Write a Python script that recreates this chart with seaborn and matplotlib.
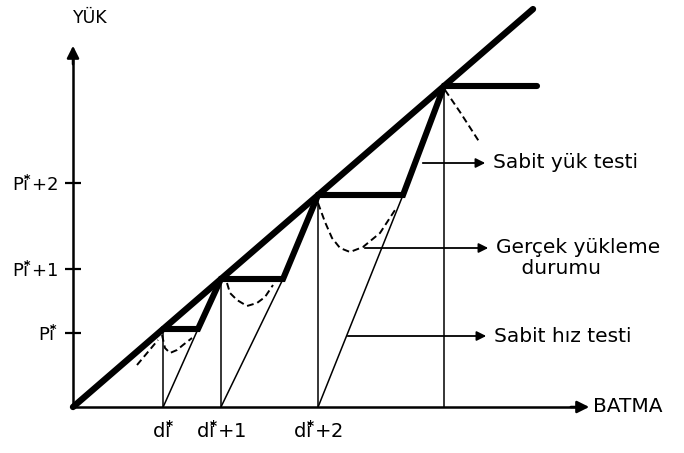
import numpy as np
import matplotlib
matplotlib.use("Agg")
import matplotlib.pyplot as plt
import seaborn as sns

# ---- data (drawing units: batma on x, yük on y) ----
slope = 0.865                      # sabit hız doğrusu eğimi
step_loads = [78, 128, 212, 321]   # yük basamakları
step_ends = [125, 210, 330, 464]   # sabit yük bitiş batması
tick_loads = [74, 138, 224]
star = r"$^{\!\!\mathbf{*}}$"
tick_labels = ["Pi" + star, "Pi" + star + "+1", "Pi" + star + "+2"]
d_labels = ["di" + star, "di" + star + "+1", "di" + star + "+2"]
diag_end = 460

# gerçek yükleme (kesikli) eğrileri
real_x = [[64, 85],
          [89, 92, 97, 104, 110, 119],
          [154, 157, 164, 174, 184, 192, 200],
          [245, 252, 259, 267, 277, 290, 307, 324],
          [372, 387, 407]]
real_y = [[42, 67],
          [72, 59, 54, 57, 62, 69],
          [124, 114, 107, 101, 104, 110, 122],
          [204, 185, 169, 159, 155, 160, 174, 200],
          [317, 295, 264]]

sns.set_style("white")
plt.rcParams["font.family"] = ["DejaVu Sans"]
plt.rcParams["text.color"] = "black"
plt.rcParams["xtick.color"] = "black"
plt.rcParams["ytick.color"] = "black"

fig = plt.figure(figsize=(6.84, 4.53), dpi=100)
ax = fig.add_axes([0, 0, 1, 1])
ax.set_xlim(-73, 611)
ax.set_ylim(-46, 407)

corners = [p / slope for p in step_loads]

# ana doğru
sns.lineplot(x=[0, diag_end], y=[0, diag_end * slope], ax=ax, color="black",
             lw=4.6, solid_capstyle="round")

# basamaklı sabit yük eğrisi
sx, sy = [], []
for c, e, p in zip(corners, step_ends, step_loads):
    sx += [c, e]
    sy += [p, p]
sns.lineplot(x=sx, y=sy, ax=ax, color="black", lw=4.4, sort=False,
             estimator=None, solid_joinstyle="miter")

# düşey ince çizgiler ve sabit hız doğruları
for i, (c, p) in enumerate(zip(corners, step_loads)):
    sns.lineplot(x=[c, c], y=[0, p], ax=ax, color="black", lw=1.1,
                 estimator=None)
    if i < 3:
        sns.lineplot(x=[c, step_ends[i]], y=[0, p], ax=ax, color="black",
                     lw=1.1, estimator=None)

for xs, ys in zip(real_x, real_y):
    sns.lineplot(x=xs, y=ys, ax=ax, color="black", lw=1.4, sort=False,
                 estimator=None, linestyle=(0, (3.5, 2)))

# eksenler
for s in ["top", "right"]:
    ax.spines[s].set_visible(False)
ax.spines["left"].set_position(("data", 0))
ax.spines["bottom"].set_position(("data", 0))
ax.spines["left"].set_bounds(0, 350)
ax.spines["bottom"].set_bounds(0, 505)
ax.spines["left"].set_color("black")
ax.spines["bottom"].set_color("black")
ax.spines["left"].set_linewidth(1.8)
ax.spines["bottom"].set_linewidth(1.8)
ax.annotate("", xy=(0, 364), xytext=(0, 340),
            arrowprops=dict(arrowstyle="-|>", color="black", lw=1.8,
                            mutation_scale=18))
ax.annotate("", xy=(519, 0), xytext=(495, 0),
            arrowprops=dict(arrowstyle="-|>", color="black", lw=1.8,
                            mutation_scale=18))

ax.set_yticks(tick_loads)
ax.set_yticklabels(tick_labels, fontsize=13)
ax.tick_params(axis="y", direction="inout", length=12, width=1.6, pad=5,
               left=True)
ax.set_xticks(corners[:3])
ax.set_xticklabels(d_labels, fontsize=14)
ax.tick_params(axis="x", length=0, pad=9, bottom=True)

ax.text(17, 389, "YÜK", fontsize=12.5, ha="center", va="center")
ax.text(520, 0, "BATMA", fontsize=14.5, ha="left", va="center")

# açıklama okları
notes = [((347, 244), (415, 244), "Sabit yük testi"),
         ((289, 159), (418, 159), "Gerçek yükleme\n    durumu"),
         ((272, 71), (416, 71), "Sabit hız testi")]
for (x0, y0), (x1, y1), txt in notes:
    ax.annotate("", xy=(x1, y1), xytext=(x0, y0),
                arrowprops=dict(arrowstyle="-|>", color="black", lw=1.3,
                                mutation_scale=14))
    ax.text(x1 + 5, y1 + (-10 if "\n" in txt else 0), txt, fontsize=14.5,
            ha="left", va="center", linespacing=1.15)

fig.savefig("out.png", dpi=100)
